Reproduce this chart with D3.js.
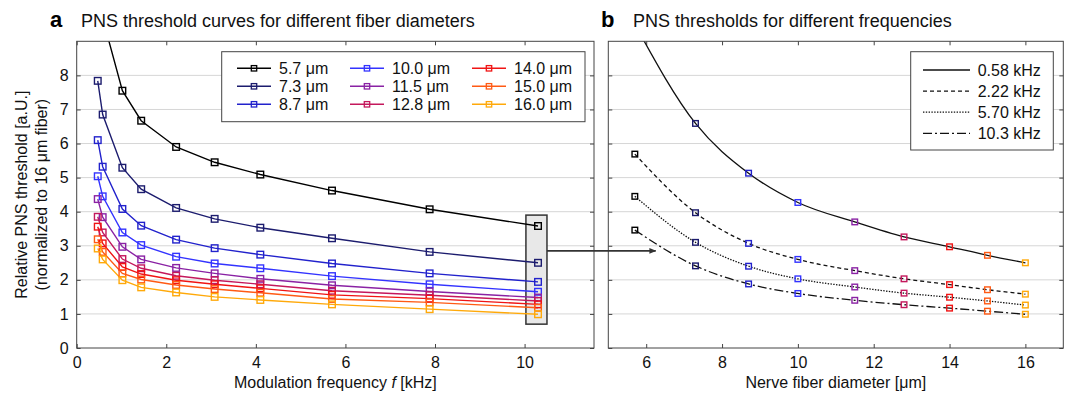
<!DOCTYPE html>
<html>
<head>
<meta charset="utf-8">
<script src="https://cdn.jsdelivr.net/npm/d3@7"></script>
<style>
  body { margin: 0; background: #fff; }
  svg { font-family: "Liberation Sans", Arial, sans-serif; }
</style>
</head>
<body>
<div class="plot"></div>
<script>
// ---- data ----
const freqs = [0.47, 0.58, 1.02, 1.44, 2.22, 3.08, 4.1, 5.7, 7.88, 10.3];
const diameters = [5.7, 7.3, 8.7, 10.0, 11.5, 12.8, 14.0, 15.0, 16.0];
const diameterLabels = ["5.7 μm", "7.3 μm", "8.7 μm", "10.0 μm", "11.5 μm", "12.8 μm", "14.0 μm", "15.0 μm", "16.0 μm"];
const diameterColors = ["#000000", "#1c1c6e", "#2222cc", "#3333ff", "#8a22a4", "#c4185c", "#f01414", "#ff5a14", "#ffa90a"];

// left panel: threshold vs frequency, one row per diameter
const th57 = [11.1, 9.68, 7.55, 6.67, 5.90, 5.45, 5.09, 4.62, 4.07, 3.58];
const th73 = [7.84, 6.85, 5.29, 4.66, 4.11, 3.79, 3.53, 3.22, 2.82, 2.50];
const th87 = [6.10, 5.32, 4.08, 3.59, 3.18, 2.93, 2.74, 2.48, 2.19, 1.94];
const th100 = [5.04, 4.45, 3.39, 3.02, 2.68, 2.48, 2.34, 2.11, 1.87, 1.65];
const th115 = [4.37, 3.84, 2.97, 2.60, 2.35, 2.19, 2.03, 1.84, 1.66, 1.48];
const th128 = [3.85, 3.39, 2.61, 2.34, 2.12, 1.99, 1.87, 1.68, 1.55, 1.38];
const th140 = [3.56, 3.07, 2.38, 2.17, 1.99, 1.87, 1.75, 1.56, 1.45, 1.28];
const th150 = [3.19, 2.82, 2.19, 2.01, 1.85, 1.73, 1.62, 1.44, 1.34, 1.18];
const th160 = [2.92, 2.60, 1.99, 1.78, 1.63, 1.50, 1.41, 1.28, 1.14, 0.99];
const leftSeries = [th57, th73, th87, th100, th115, th128, th140, th150, th160];

// right panel: threshold vs diameter, one row per frequency
const freqLabels = ["0.58 kHz", "2.22 kHz", "5.70 kHz", "10.3 kHz"];
const f058 = [9.5, 6.59, 5.13, 4.27, 3.70, 3.26, 2.97, 2.72, 2.50];
const f222 = [5.69, 3.97, 3.07, 2.60, 2.27, 2.03, 1.86, 1.71, 1.58];
const f570 = [4.45, 3.10, 2.40, 2.03, 1.79, 1.61, 1.49, 1.38, 1.26];
const f103 = [3.46, 2.41, 1.88, 1.60, 1.40, 1.27, 1.17, 1.08, 0.99];
const rightSeries = [f058, f222, f570, f103];
const dashes = [null, "4,3", "1.4,1.4", "9,3,2,3"];

// highlighted column (10.3 kHz) and arrow target
const boxF = [10.03, 10.5];
const boxV = [0.7, 3.9];
const arrowV = 2.85;
const arrowD = 6.25;

const xTicksL = [0, 2, 4, 6, 8, 10];
const xTicksR = [6, 8, 10, 12, 14, 16];
const yTicks = [0, 1, 2, 3, 4, 5, 6, 7, 8];

// ---- layout ----
const W = 1070, H = 394;
const plotTop = 41.3, plotBottom = 348;
const svg = d3.select(".plot").append("svg")
    .attr("width", W).attr("height", H);

const defs = svg.append("defs");
defs.append("marker")
    .attr("id", "arrow")
    .attr("viewBox", "0 0 10 10")
    .attr("refX", 9).attr("refY", 5)
    .attr("markerWidth", 7).attr("markerHeight", 7)
    .attr("markerUnits", "userSpaceOnUse")
    .attr("orient", "auto")
  .append("path")
    .attr("d", "M0,1 L10,5 L0,9 Z")
    .attr("fill", "#333");

const y = d3.scaleLinear().domain([0, 9]).range([plotBottom, plotTop]);
const xL = d3.scaleLinear().domain([0, 11.55]).range([76.7, 594]);
const xR = d3.scaleLinear().domain([5, 17]).range([608.3, 1063.3]);

// draws frame, grid and axes of one panel
function panel(x, xTicks, showYLabels, id) {
    const [x0, x1] = x.range();
    defs.append("clipPath").attr("id", id)
      .append("rect").attr("x", x0).attr("y", plotTop)
        .attr("width", x1 - x0).attr("height", plotBottom - plotTop);

    svg.append("g").selectAll("line")
        .data(yTicks.filter(d => d > 0))
        .join("line")
        .attr("x1", x0).attr("x2", x1)
        .attr("y1", d => y(d)).attr("y2", d => y(d))
        .attr("stroke", "#d6d6d6").attr("stroke-width", 1);

    const axes = [
        [d3.axisBottom(x).tickValues(xTicks).tickSize(-4).tickPadding(9), `translate(0,${plotBottom})`, true],
        [d3.axisTop(x).tickValues(xTicks).tickSize(-4).tickFormat(""), `translate(0,${plotTop})`, false],
        [d3.axisLeft(y).tickValues(yTicks).tickSize(-4).tickPadding(8), `translate(${x0},0)`, showYLabels],
        [d3.axisRight(y).tickValues(yTicks).tickSize(-4).tickFormat(""), `translate(${x1},0)`, false]
    ];
    axes.forEach(([ax, tr, labels]) => {
        const g = svg.append("g").attr("transform", tr).call(ax);
        g.select(".domain").remove();
        g.selectAll("line").attr("stroke", "#444");
        g.selectAll("text")
            .attr("fill", "#111")
            .style("font-size", "16px")
            .style("font-family", "Liberation Sans, Arial, sans-serif");
        if (!labels) g.selectAll("text").remove();
    });
    return { x0, x1 };
}

// ---------- panel a ----------
const pa = panel(xL, xTicksL, true, "clipA");

svg.append("rect")
    .attr("x", xL(boxF[0])).attr("y", y(boxV[1]))
    .attr("width", xL(boxF[1]) - xL(boxF[0]))
    .attr("height", y(boxV[0]) - y(boxV[1]))
    .attr("fill", "#e8e8e8").attr("stroke", "#333").attr("stroke-width", 1.5);

const lineL = d3.line().x((d, i) => xL(freqs[i])).y(d => y(d));
const gA = svg.append("g").attr("clip-path", "url(#clipA)");
leftSeries.forEach((s, k) => {
    gA.append("path")
        .attr("d", lineL(s))
        .attr("fill", "none")
        .attr("stroke", diameterColors[k])
        .attr("stroke-width", 1.4);
});
leftSeries.forEach((s, k) => {
    gA.append("g").selectAll("rect")
        .data(s)
        .join("rect")
        .attr("x", (d, i) => xL(freqs[i]) - 3.3)
        .attr("y", d => y(d) - 3.3)
        .attr("width", 6.6).attr("height", 6.6)
        .attr("fill", "none")
        .attr("stroke", diameterColors[k])
        .attr("stroke-width", 1.4);
});

svg.append("rect")
    .attr("x", pa.x0).attr("y", plotTop)
    .attr("width", pa.x1 - pa.x0).attr("height", plotBottom - plotTop)
    .attr("fill", "none").attr("stroke", "#444").attr("stroke-width", 1);

// legend a
const legA = svg.append("g");
legA.append("rect")
    .attr("x", 221.7).attr("y", 51.7).attr("width", 363.3).attr("height", 70)
    .attr("fill", "#fff").attr("stroke", "#444").attr("stroke-width", 1);
const colX = [237, 350, 472];
diameterLabels.forEach((lab, k) => {
    const cx = colX[Math.floor(k / 3)];
    const cy = 68.3 + (k % 3) * 18;
    legA.append("line")
        .attr("x1", cx).attr("x2", cx + 34).attr("y1", cy).attr("y2", cy)
        .attr("stroke", diameterColors[k]).attr("stroke-width", 1.4);
    legA.append("rect")
        .attr("x", cx + 17 - 2.7).attr("y", cy - 2.7)
        .attr("width", 5.4).attr("height", 5.4)
        .attr("fill", "none").attr("stroke", diameterColors[k]).attr("stroke-width", 1.3);
    legA.append("text")
        .attr("x", cx + 42).attr("y", cy).attr("dy", "0.35em")
        .style("font-size", "16px").attr("fill", "#111")
        .text(lab);
});

// ---------- panel b ----------
const pb = panel(xR, xTicksR, false, "clipB");

const lineR = d3.line().curve(d3.curveMonotoneX)
    .x((d, i) => xR(diameters[i])).y(d => y(d));
const gB = svg.append("g").attr("clip-path", "url(#clipB)");
rightSeries.forEach((s, k) => {
    gB.append("path")
        .attr("d", lineR(s))
        .attr("fill", "none")
        .attr("stroke", "#111")
        .attr("stroke-width", 1.3)
        .attr("stroke-dasharray", dashes[k]);
});
rightSeries.forEach(s => {
    gB.append("g").selectAll("rect")
        .data(s)
        .join("rect")
        .attr("x", (d, i) => xR(diameters[i]) - 2.8)
        .attr("y", d => y(d) - 2.8)
        .attr("width", 5.6).attr("height", 5.6)
        .attr("fill", "none")
        .attr("stroke", (d, i) => diameterColors[i])
        .attr("stroke-width", 1.4);
});

svg.append("rect")
    .attr("x", pb.x0).attr("y", plotTop)
    .attr("width", pb.x1 - pb.x0).attr("height", plotBottom - plotTop)
    .attr("fill", "none").attr("stroke", "#444").attr("stroke-width", 1);

// legend b
const legB = svg.append("g");
legB.append("rect")
    .attr("x", 910.7).attr("y", 51.7).attr("width", 142.6).attr("height", 98.3)
    .attr("fill", "#fff").attr("stroke", "#444").attr("stroke-width", 1);
freqLabels.forEach((lab, k) => {
    const cy = 70 + k * 21.1;
    legB.append("line")
        .attr("x1", 923).attr("x2", 970).attr("y1", cy).attr("y2", cy)
        .attr("stroke", "#111").attr("stroke-width", 1.3)
        .attr("stroke-dasharray", dashes[k]);
    legB.append("text")
        .attr("x", 977.7).attr("y", cy).attr("dy", "0.35em")
        .style("font-size", "16px").attr("fill", "#111")
        .text(lab);
});

// arrow from highlighted column to panel b
svg.append("line")
    .attr("x1", xL(boxF[1])).attr("x2", xR(arrowD))
    .attr("y1", y(arrowV)).attr("y2", y(arrowV))
    .attr("stroke", "#333").attr("stroke-width", 1.8)
    .attr("marker-end", "url(#arrow)");

// ---------- titles and axis labels ----------
svg.append("text").attr("x", 50).attr("y", 27)
    .style("font-size", "22px").style("font-weight", "bold").text("a");
svg.append("text").attr("x", 81).attr("y", 26.5)
    .style("font-size", "18px").attr("fill", "#111")
    .text("PNS threshold curves for different fiber diameters");
svg.append("text").attr("x", 601).attr("y", 27)
    .style("font-size", "22px").style("font-weight", "bold").text("b");
svg.append("text").attr("x", 633).attr("y", 26.5)
    .style("font-size", "18px").attr("fill", "#111")
    .text("PNS thresholds for different frequencies");

const xl = svg.append("text")
    .attr("x", (pa.x0 + pa.x1) / 2).attr("y", 388)
    .attr("text-anchor", "middle")
    .style("font-size", "16px").attr("fill", "#111");
xl.append("tspan").text("Modulation frequency ");
xl.append("tspan").style("font-style", "italic").text("f");
xl.append("tspan").text(" [kHz]");

svg.append("text")
    .attr("x", (pb.x0 + pb.x1) / 2).attr("y", 388)
    .attr("text-anchor", "middle")
    .style("font-size", "16px").attr("fill", "#111")
    .text("Nerve fiber diameter [μm]");

const midY = (plotTop + plotBottom) / 2;
svg.append("text")
    .attr("transform", `translate(27,${midY}) rotate(-90)`)
    .attr("text-anchor", "middle")
    .style("font-size", "16px").attr("fill", "#111")
    .text("Relative PNS threshold [a.U.]");
svg.append("text")
    .attr("transform", `translate(47,${midY}) rotate(-90)`)
    .attr("text-anchor", "middle")
    .style("font-size", "16px").attr("fill", "#111")
    .text("(normalized to 16 μm fiber)");
</script>
</body>
</html>
